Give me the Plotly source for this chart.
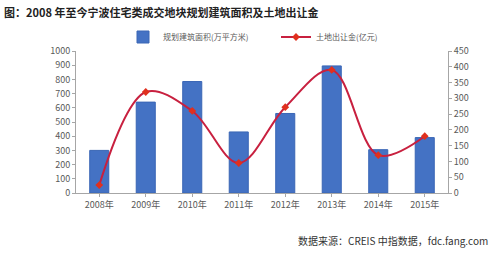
import plotly.graph_objects as go

years = ["2008年", "2009年", "2010年", "2011年", "2012年", "2013年", "2014年", "2015年"]
area = [300, 640, 785, 430, 560, 895, 305, 390]
money = [25, 320, 260, 95, 272, 390, 120, 180]

font_cn = "Noto Sans CJK SC"

fig = go.Figure()
fig.add_trace(go.Bar(
    x=years, y=area, name="规划建筑面积(万平方米)",
    marker=dict(color="#4472C4", line=dict(color="#3A66B5", width=1)),
    width=0.41, yaxis="y"))
fig.add_trace(go.Scatter(
    x=years, y=money, name="土地出让金(亿元)", yaxis="y2",
    mode="lines+markers",
    line=dict(color="#C8203F", width=2, shape="spline", smoothing=1.0),
    marker=dict(color="#E0301E", size=6, symbol="diamond")))

axis_common = dict(showgrid=False, zeroline=False, showline=True,
                   linecolor="#A6A6A6", linewidth=1, ticks="outside",
                   ticklen=3, tickcolor="#A6A6A6",
                   tickfont=dict(family=font_cn, size=9, color="#595959"))

fig.update_layout(
    width=495, height=254,
    margin=dict(l=76, r=47, t=51, b=61, autoexpand=False),
    paper_bgcolor="white", plot_bgcolor="white",
    showlegend=True,
    legend=dict(orientation="h", x=(123 - 76) / 372, y=1 + (51 - 37) / 142,
                xanchor="left", yanchor="middle",
                font=dict(family=font_cn, size=8, color="#595959"),
                entrywidth=108, entrywidthmode="pixels",
                itemwidth=30, tracegroupgap=0, bgcolor="rgba(0,0,0,0)"),
    xaxis=dict(**axis_common),
    yaxis=dict(range=[0, 1000], dtick=100, **axis_common),
    yaxis2=dict(range=[0, 450], dtick=50, overlaying="y", side="right", **axis_common),
)

fig.add_annotation(text="<b>图：2008 年至今宁波住宅类成交地块规划建筑面积及土地出让金</b>",
                   xref="paper", yref="paper", x=-74 / 372, y=1 + (51 - 12) / 142,
                   xanchor="left", yanchor="middle", showarrow=False,
                   font=dict(family=font_cn, size=11, color="#222222"))
fig.add_annotation(text="数据来源：CREIS 中指数据，fdc.fang.com",
                   xref="paper", yref="paper", x=1 + 42 / 372, y=-(240 - 193) / 142,
                   xanchor="right", yanchor="middle", showarrow=False,
                   font=dict(family=font_cn, size=10, color="#333333"))

fig.write_html("out.html")
